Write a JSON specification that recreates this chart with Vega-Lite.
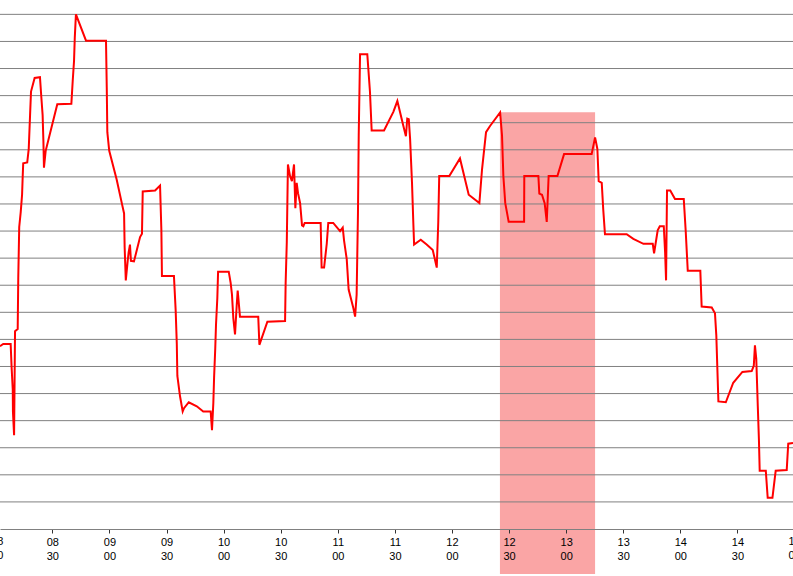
{
  "$schema": "https://vega.github.io/schema/vega-lite/v6.json",
  "width": 793,
  "height": 529,
  "autosize": {"type": "none"},
  "padding": {"left": 0, "top": 0, "right": 0, "bottom": 47},
  "config": {
    "view": {"stroke": null},
    "font": "Liberation Sans"
  },
  "datasets": {
    "series": [
      {"time": 482.5, "value": 6.75}, {"time": 484.2, "value": 6.83}, {"time": 488.1, "value": 6.83},
      {"time": 488.6, "value": 5.96}, {"time": 489.2, "value": 5.15}, {"time": 489.3, "value": 4.34},
      {"time": 489.9, "value": 3.46}, {"time": 490.4, "value": 7.3}, {"time": 491.8, "value": 7.38},
      {"time": 492.1, "value": 9.28}, {"time": 492.6, "value": 11.15}, {"time": 493.4, "value": 11.71},
      {"time": 494.1, "value": 12.34}, {"time": 494.4, "value": 12.96}, {"time": 494.7, "value": 13.5},
      {"time": 496.8, "value": 13.53}, {"time": 497.6, "value": 14.03}, {"time": 498.3, "value": 15.28},
      {"time": 498.8, "value": 16.15}, {"time": 500.7, "value": 16.65}, {"time": 503.5, "value": 16.68},
      {"time": 504.2, "value": 15.96}, {"time": 504.9, "value": 15.28}, {"time": 505.3, "value": 14.34},
      {"time": 505.6, "value": 13.34}, {"time": 506.5, "value": 13.96}, {"time": 512.6, "value": 15.68},
      {"time": 520.0, "value": 15.7}, {"time": 520.7, "value": 16.53}, {"time": 521.4, "value": 17.28},
      {"time": 521.8, "value": 18.15}, {"time": 522.4, "value": 19.0}, {"time": 527.7, "value": 18.03},
      {"time": 538.2, "value": 18.03}, {"time": 538.6, "value": 16.3}, {"time": 538.9, "value": 14.65},
      {"time": 539.9, "value": 13.96}, {"time": 543.8, "value": 12.9}, {"time": 546.5, "value": 12.03},
      {"time": 547.7, "value": 11.65}, {"time": 548.0, "value": 10.4}, {"time": 548.6, "value": 9.18},
      {"time": 549.6, "value": 9.9}, {"time": 550.1, "value": 10.21}, {"time": 550.8, "value": 10.5},
      {"time": 551.3, "value": 9.9}, {"time": 552.9, "value": 9.88}, {"time": 556.1, "value": 10.78},
      {"time": 557.1, "value": 10.9}, {"time": 557.5, "value": 12.46}, {"time": 564.0, "value": 12.5},
      {"time": 566.6, "value": 12.68}, {"time": 567.3, "value": 11.03}, {"time": 567.6, "value": 9.34},
      {"time": 573.9, "value": 9.34}, {"time": 574.8, "value": 8.09}, {"time": 575.4, "value": 6.84},
      {"time": 575.7, "value": 5.65}, {"time": 577.1, "value": 4.9}, {"time": 578.5, "value": 4.34},
      {"time": 579.2, "value": 4.46}, {"time": 581.7, "value": 4.68}, {"time": 585.9, "value": 4.53},
      {"time": 589.3, "value": 4.34}, {"time": 593.2, "value": 4.34}, {"time": 593.9, "value": 3.65},
      {"time": 594.6, "value": 4.65}, {"time": 595.0, "value": 5.59}, {"time": 595.6, "value": 6.65},
      {"time": 596.0, "value": 7.53}, {"time": 596.7, "value": 8.53}, {"time": 597.1, "value": 9.5},
      {"time": 602.7, "value": 9.5}, {"time": 603.7, "value": 9.09}, {"time": 604.4, "value": 8.65},
      {"time": 605.1, "value": 7.78}, {"time": 606.0, "value": 7.18}, {"time": 606.9, "value": 8.28},
      {"time": 607.4, "value": 8.8}, {"time": 608.6, "value": 7.84}, {"time": 618.2, "value": 7.84},
      {"time": 618.8, "value": 6.8}, {"time": 623.0, "value": 7.65}, {"time": 632.3, "value": 7.68},
      {"time": 632.6, "value": 9.09}, {"time": 633.2, "value": 10.59}, {"time": 633.5, "value": 12.03},
      {"time": 633.8, "value": 13.46}, {"time": 634.9, "value": 13.03}, {"time": 635.9, "value": 12.84},
      {"time": 637.0, "value": 13.46}, {"time": 637.7, "value": 11.84}, {"time": 638.4, "value": 12.78},
      {"time": 639.1, "value": 12.4}, {"time": 640.2, "value": 12.03}, {"time": 641.2, "value": 11.21},
      {"time": 641.9, "value": 11.18}, {"time": 642.6, "value": 11.3}, {"time": 651.0, "value": 11.3},
      {"time": 651.5, "value": 9.65}, {"time": 652.8, "value": 9.65}, {"time": 654.2, "value": 10.53},
      {"time": 655.0, "value": 11.3}, {"time": 657.6, "value": 11.3}, {"time": 661.2, "value": 11.0},
      {"time": 662.6, "value": 11.13}, {"time": 663.3, "value": 10.65}, {"time": 664.7, "value": 9.96},
      {"time": 665.7, "value": 8.84}, {"time": 668.2, "value": 8.15}, {"time": 669.1, "value": 7.84},
      {"time": 669.9, "value": 8.65}, {"time": 670.6, "value": 11.65}, {"time": 671.0, "value": 14.53},
      {"time": 671.7, "value": 17.53}, {"time": 675.5, "value": 17.53}, {"time": 676.9, "value": 16.15},
      {"time": 677.8, "value": 14.71}, {"time": 684.3, "value": 14.71}, {"time": 689.2, "value": 15.4},
      {"time": 691.3, "value": 15.8}, {"time": 694.4, "value": 14.9}, {"time": 695.8, "value": 14.5},
      {"time": 696.5, "value": 15.15}, {"time": 697.3, "value": 15.13}, {"time": 698.0, "value": 14.4},
      {"time": 699.0, "value": 12.78}, {"time": 699.7, "value": 11.28}, {"time": 700.1, "value": 10.5},
      {"time": 703.6, "value": 10.68}, {"time": 706.7, "value": 10.5}, {"time": 709.9, "value": 10.3},
      {"time": 712.0, "value": 9.65}, {"time": 712.8, "value": 11.34}, {"time": 713.3, "value": 13.03},
      {"time": 718.6, "value": 13.03}, {"time": 724.2, "value": 13.68}, {"time": 728.8, "value": 12.34},
      {"time": 734.4, "value": 12.03}, {"time": 735.8, "value": 13.28}, {"time": 737.9, "value": 14.65},
      {"time": 740.0, "value": 14.88}, {"time": 745.3, "value": 15.38}, {"time": 746.3, "value": 14.53},
      {"time": 747.0, "value": 13.03}, {"time": 748.0, "value": 12.03}, {"time": 749.8, "value": 11.34},
      {"time": 757.9, "value": 11.34}, {"time": 758.0, "value": 13.03}, {"time": 765.4, "value": 13.03},
      {"time": 765.9, "value": 12.38}, {"time": 767.3, "value": 12.34}, {"time": 768.7, "value": 12.03},
      {"time": 769.8, "value": 11.34}, {"time": 770.8, "value": 13.03}, {"time": 775.4, "value": 13.03},
      {"time": 778.9, "value": 13.84}, {"time": 793.4, "value": 13.84}, {"time": 795.2, "value": 14.46},
      {"time": 796.4, "value": 14.03}, {"time": 797.1, "value": 12.84}, {"time": 798.7, "value": 12.78},
      {"time": 799.5, "value": 11.78}, {"time": 800.4, "value": 10.88}, {"time": 811.8, "value": 10.88},
      {"time": 815.3, "value": 10.71}, {"time": 820.6, "value": 10.53}, {"time": 825.5, "value": 10.53},
      {"time": 826.2, "value": 10.18}, {"time": 828.1, "value": 11.03}, {"time": 829.2, "value": 11.18},
      {"time": 831.3, "value": 11.18}, {"time": 832.0, "value": 10.21}, {"time": 832.5, "value": 9.18},
      {"time": 833.0, "value": 12.5}, {"time": 834.7, "value": 12.5}, {"time": 837.2, "value": 12.18},
      {"time": 841.8, "value": 12.18}, {"time": 842.8, "value": 11.03}, {"time": 843.9, "value": 9.53},
      {"time": 850.5, "value": 9.53}, {"time": 851.2, "value": 8.21}, {"time": 856.5, "value": 8.18},
      {"time": 858.2, "value": 7.96}, {"time": 858.9, "value": 7.15}, {"time": 860.0, "value": 4.71},
      {"time": 863.9, "value": 4.68}, {"time": 867.8, "value": 5.4}, {"time": 872.6, "value": 5.8},
      {"time": 877.5, "value": 5.83}, {"time": 878.6, "value": 6.03}, {"time": 879.2, "value": 6.78},
      {"time": 879.9, "value": 6.28}, {"time": 880.7, "value": 4.53}, {"time": 881.3, "value": 3.28},
      {"time": 881.7, "value": 2.15}, {"time": 884.9, "value": 2.15}, {"time": 885.9, "value": 1.15},
      {"time": 888.4, "value": 1.15}, {"time": 890.1, "value": 2.15}, {"time": 895.9, "value": 2.18},
      {"time": 896.7, "value": 3.15}, {"time": 899.2, "value": 3.18}
    ],
    "grid": [
      {"level": 1}, {"level": 2}, {"level": 3}, {"level": 4}, {"level": 5},
      {"level": 6}, {"level": 7}, {"level": 8}, {"level": 9}, {"level": 10},
      {"level": 11}, {"level": 12}, {"level": 13}, {"level": 14}, {"level": 15},
      {"level": 16}, {"level": 17}, {"level": 18}, {"level": 19}
    ],
    "window": [
      {"start": 745.2, "end": 795.2, "top": 15.39, "bottom": -1.66}
    ],
    "edgeLabels": [
      {"time": 481, "label": "08\n00"},
      {"time": 900, "label": "15\n00"}
    ]
  },
  "layer": [
    {
      "data": {"name": "window"},
      "mark": {"type": "rect", "fill": "#FAA5A5"},
      "encoding": {
        "x": {
          "field": "start",
          "type": "quantitative",
          "title": null,
          "scale": {"domain": [482.5, 899.2], "nice": false, "zero": false},
          "axis": {
            "values": [480, 510, 540, 570, 600, 630, 660, 690, 720, 750, 780, 810, 840, 870, 900],
            "labelExpr": "[format(floor(datum.value / 60), '02d'), format(datum.value % 60, '02d')]",
            "grid": false,
            "zindex": 1,
            "domainColor": "#808080",
            "tickColor": "#333333",
            "tickSize": 4,
            "labelFontSize": 11,
            "labelColor": "#000000",
            "labelBaseline": "top",
            "labelLineHeight": 14,
            "labelPadding": 3,
            "labelFlush": false,
            "labelOverlap": false,
            "labelBound": false
          }
        },
        "x2": {"field": "end"},
        "y": {
          "field": "top",
          "type": "quantitative",
          "title": null,
          "scale": {"domain": [0, 19.53], "nice": false, "zero": false},
          "axis": null
        },
        "y2": {"field": "bottom"}
      }
    },
    {
      "data": {"name": "grid"},
      "mark": {"type": "rule", "color": "#808080", "strokeWidth": 1},
      "encoding": {
        "y": {"field": "level", "type": "quantitative", "title": null, "axis": null}
      }
    },
    {
      "data": {"name": "series"},
      "mark": {"type": "line", "color": "#FF0000", "strokeWidth": 2},
      "encoding": {
        "x": {"field": "time", "type": "quantitative", "title": null},
        "y": {"field": "value", "type": "quantitative", "title": null, "axis": null},
        "order": {"value": null}
      }
    },
    {
      "mark": {"type": "rule", "color": "#000000", "strokeWidth": 2},
      "encoding": {
        "y": {"datum": 6.64, "type": "quantitative", "axis": null}
      }
    },
    {
      "data": {"name": "edgeLabels"},
      "mark": {
        "type": "text",
        "baseline": "top",
        "align": "center",
        "fontSize": 11,
        "color": "#000000",
        "lineBreak": "\n",
        "lineHeight": 14
      },
      "encoding": {
        "x": {"field": "time", "type": "quantitative", "title": null},
        "y": {"datum": -0.26, "type": "quantitative", "axis": null},
        "text": {"field": "label"}
      }
    }
  ]
}
